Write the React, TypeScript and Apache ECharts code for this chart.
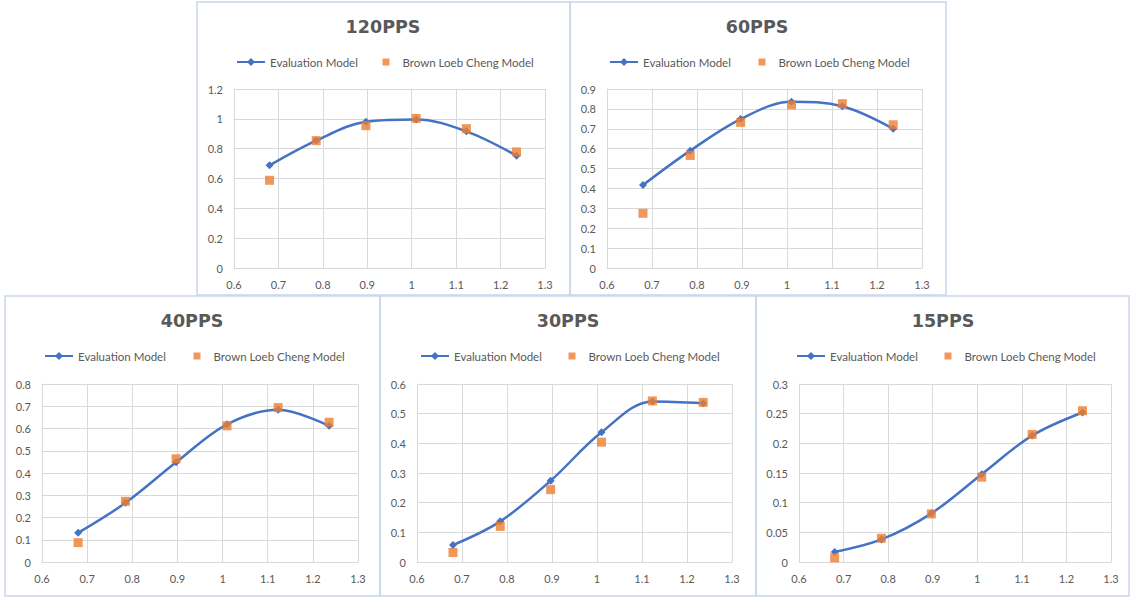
import React, { useEffect, useRef } from "react";
import * as echarts from "echarts";

const xValues = [0.68, 0.785, 0.897, 1.01, 1.123, 1.236];
const titles = ["120PPS", "60PPS", "40PPS", "30PPS", "15PPS"];
const seriesNames = ["Evaluation Model", "Brown Loeb Cheng Model"];

const eval120 = [0.688, 0.854, 0.981, 0.996, 0.916, 0.753];
const brown120 = [0.588, 0.854, 0.954, 1.003, 0.934, 0.778];
const eval60 = [0.417, 0.59, 0.749, 0.836, 0.813, 0.7];
const brown60 = [0.275, 0.566, 0.732, 0.82, 0.826, 0.72];
const eval40 = [0.131, 0.266, 0.448, 0.619, 0.684, 0.612];
const brown40 = [0.087, 0.273, 0.464, 0.612, 0.694, 0.628];
const eval30 = [0.057, 0.137, 0.274, 0.437, 0.541, 0.535];
const brown30 = [0.032, 0.12, 0.244, 0.404, 0.543, 0.538];
const eval15 = [0.017, 0.038, 0.082, 0.148, 0.213, 0.252];
const brown15 = [0.007, 0.04, 0.081, 0.143, 0.215, 0.255];

const evalSets = [eval120, eval60, eval40, eval30, eval15];
const brownSets = [brown120, brown60, brown40, brown30, brown15];
const yMaxes = [1.2, 0.9, 0.8, 0.6, 0.3];
const yIntervals = [0.2, 0.1, 0.1, 0.1, 0.05];
const xMin = 0.6;
const xMax = 1.3;
const xInterval = 0.1;

// layout (positions only)
const panels = [
  { box: [197, 2, 373, 293], grid: [234, 89, 311, 179], lineLeft: 236, sqCenter: 386, legendY: 62, titleX: 383, titleY: 18 },
  { box: [570, 2, 376, 293], grid: [607, 89, 315, 179], lineLeft: 609, sqCenter: 762, legendY: 62, titleX: 757, titleY: 18 },
  { box: [5, 296, 375, 300], grid: [42, 384, 316, 178], lineLeft: 44, sqCenter: 197, legendY: 356, titleX: 192, titleY: 312 },
  { box: [380, 296, 376, 300], grid: [417, 384, 315, 178], lineLeft: 420, sqCenter: 572, legendY: 356, titleX: 568, titleY: 312 },
  { box: [756, 296, 373, 300], grid: [799, 384, 312, 178], lineLeft: 796, sqCenter: 948, legendY: 356, titleX: 943, titleY: 312 },
];

const BLUE = "#4472C4";
const ORANGE = "#ED7D31";
const TEXT = "#595959";
const GRID = "#D9D9D9";
const FONT = "Lato, 'Open Sans', sans-serif";

export default function App() {
  const ref = useRef<HTMLDivElement>(null);
  useEffect(() => {
    if (!ref.current) return;
    const chart = echarts.init(ref.current, undefined, { renderer: "svg" });
    const grid: any[] = [];
    const xAxis: any[] = [];
    const yAxis: any[] = [];
    const series: any[] = [];
    const title: any[] = [];
    const legend: any[] = [];
    const graphic: any[] = [];

    panels.forEach((p, i) => {
      graphic.push({
        type: "rect",
        shape: { x: p.box[0], y: p.box[1], width: p.box[2], height: p.box[3] },
        style: { fill: "none", stroke: "#C9D6EC", lineWidth: 1.5 },
        silent: true,
        z: -1,
      });
      grid.push({ left: p.grid[0], top: p.grid[1], width: p.grid[2], height: p.grid[3], containLabel: false });
      xAxis.push({
        type: "value",
        gridIndex: i,
        min: xMin,
        max: xMax,
        interval: xInterval,
        axisLine: { show: true, lineStyle: { color: GRID } },
        axisTick: { show: false },
        splitLine: { show: true, lineStyle: { color: GRID, width: 1 } },
        axisLabel: { color: TEXT, fontFamily: FONT, fontSize: 11, margin: 11 },
      });
      yAxis.push({
        type: "value",
        gridIndex: i,
        min: 0,
        max: yMaxes[i],
        interval: yIntervals[i],
        axisLine: { show: true, lineStyle: { color: GRID } },
        axisTick: { show: false },
        splitLine: { show: true, lineStyle: { color: GRID, width: 1 } },
        axisLabel: { color: TEXT, fontFamily: FONT, fontSize: 11, margin: 11 },
      });
      title.push({
        text: titles[i],
        left: p.titleX,
        top: p.titleY,
        textAlign: "center",
        padding: 0,
        textStyle: { color: TEXT, fontFamily: "'DejaVu Sans', sans-serif", fontWeight: "bold", fontSize: 17.5 },
      });
      legend.push({
        data: [seriesNames[0]],
        left: p.lineLeft,
        top: p.legendY - 6,
        padding: 0,
        itemWidth: 28,
        itemHeight: 10,
        textStyle: { color: TEXT, fontFamily: FONT, fontSize: 11.5 },
      });
      legend.push({
        data: [{ name: seriesNames[1], icon: "rect" }],
        left: p.sqCenter - 3.5,
        top: p.legendY - 6,
        padding: 0,
        itemWidth: 7,
        itemHeight: 7,
        textStyle: { color: TEXT, fontFamily: FONT, fontSize: 11.5, padding: [0, 0, 0, 8] },
      });
      series.push({
        name: seriesNames[0],
        type: "line",
        xAxisIndex: i,
        yAxisIndex: i,
        data: xValues.map((x, j) => [x, evalSets[i][j]]),
        smooth: 0.35,
        symbol: "diamond",
        symbolSize: 8,
        lineStyle: { color: BLUE, width: 2.5 },
        itemStyle: { color: BLUE },
        z: 2,
      });
      series.push({
        name: seriesNames[1],
        type: "scatter",
        xAxisIndex: i,
        yAxisIndex: i,
        data: xValues.map((x, j) => [x, brownSets[i][j]]),
        symbol: "rect",
        symbolSize: 9,
        itemStyle: { color: ORANGE },
        z: 3,
      });
    });

    chart.setOption({
      animation: false,
      backgroundColor: "#ffffff",
      title,
      legend,
      grid,
      xAxis,
      yAxis,
      series,
      graphic,
    });
    return () => chart.dispose();
  }, []);
  return (
    <div
      ref={ref}
      style={{ position: "fixed", left: 0, top: 0, width: 1130, height: 599, background: "#fff" }}
    />
  );
}
